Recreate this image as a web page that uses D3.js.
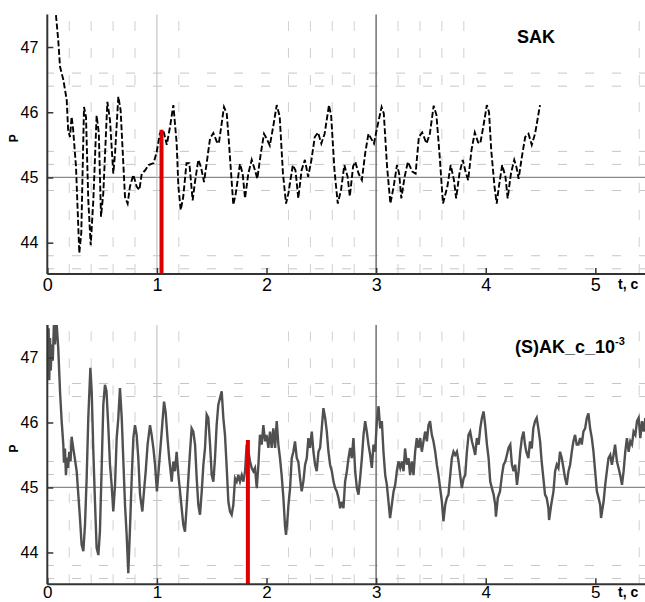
<!DOCTYPE html>
<html><head><meta charset="utf-8">
<script src="https://cdn.jsdelivr.net/npm/d3@7"></script>
<style>body{margin:0;background:#fff}svg{display:block}text{font-family:"Liberation Sans",Arial,sans-serif}</style>
</head><body>
<script>
// ---------- data ----------
const xTicks = [0,1,2,3,4,5];
const yTicks = [44,45,46,47];
const gridY = [43.6,43.8,44.8,45.2,45.4,46.4,46.6];
const gridX = [0.2,0.4,0.6,0.8,1.2,2.2,2.4,2.6,2.8,3.2,3.4,3.6,3.8,5.4];
const panelTitles = ["SAK","(S)AK_c_10"];
const redBarT = [1.042, 1.83];
const redBarP = [45.73, 45.73];

const topT = [0.079,0.1,0.116,0.146,0.177,0.19,0.207,0.222,0.235,0.262,0.292,0.31,0.335,0.353,0.374,0.396,0.42,0.45,0.47,0.49,0.511,0.548,0.572,0.602,0.618,0.648,0.669,0.709,0.733,0.754,0.785,0.815,0.84,0.862,0.893,0.923,0.97,0.998,1.028,1.058,1.09,1.12,1.15,1.18,1.196,1.217,1.24,1.27,1.296,1.326,1.347,1.378,1.402,1.43,1.454,1.485,1.515,1.546,1.565,1.612,1.637,1.66,1.697,1.72,1.758,1.782,1.804,1.834,1.865,1.895,1.916,1.947,1.977,2.0,2.03,2.06,2.093,2.12,2.15,2.178,2.2,2.24,2.264,2.29,2.32,2.35,2.38,2.41,2.44,2.47,2.5,2.53,2.57,2.59,2.62,2.65,2.68,2.71,2.74,2.76,2.79,2.81,2.84,2.87,2.9,2.93,2.98,3.01,3.05,3.07,3.1,3.13,3.16,3.19,3.21,3.23,3.26,3.29,3.33,3.36,3.39,3.42,3.46,3.49,3.525,3.55,3.58,3.61,3.65,3.68,3.71,3.73,3.76,3.79,3.82,3.84,3.87,3.9,3.93,3.95,3.98,4.01,4.03,4.05,4.08,4.1,4.12,4.15,4.18,4.2,4.23,4.26,4.28,4.3,4.33,4.36,4.39,4.42,4.45,4.495];
const topP = [47.49,47.1,46.7,46.5,46.19,45.73,45.62,45.93,45.75,45.16,43.84,44.15,46.08,45.93,44.65,43.96,44.65,45.95,45.68,44.4,44.76,46.16,45.88,45.06,45.37,46.24,46.03,44.7,44.6,44.86,45.04,44.86,44.81,45.06,45.11,45.19,45.22,45.39,45.68,45.73,45.5,45.78,46.11,45.53,44.86,44.5,44.7,45.22,45.22,44.65,44.93,45.27,45.16,44.93,45.22,45.6,45.68,45.55,45.52,46.08,45.98,45.47,44.58,44.76,45.21,45.06,44.68,45.06,45.27,45.11,44.98,45.36,45.67,45.6,45.49,45.77,46.11,45.94,45.06,44.6,44.76,45.19,45.11,44.68,45.11,45.27,45.01,45.27,45.62,45.69,45.52,45.67,46.11,45.94,45.11,44.6,44.81,45.19,45.01,44.71,45.17,45.24,45.06,44.96,45.37,45.67,45.52,45.77,46.08,45.98,45.16,44.6,44.86,45.19,45.06,44.68,45.01,45.24,45.09,45.06,45.62,45.69,45.52,45.67,46.1,45.96,45.32,44.6,44.86,45.19,44.96,44.68,45.06,45.27,45.06,44.96,45.42,45.69,45.54,45.52,45.8,46.11,46.0,45.42,44.86,44.6,44.86,45.19,45.01,44.68,45.06,45.27,45.16,44.98,45.32,45.62,45.67,45.5,45.67,46.11];

const botT = [0.0,0.005,0.012,0.018,0.025,0.032,0.04,0.05,0.06,0.07,0.08,0.086,0.1,0.116,0.131,0.146,0.152,0.161,0.17,0.18,0.19,0.2,0.212,0.222,0.237,0.25,0.268,0.283,0.298,0.313,0.329,0.344,0.359,0.374,0.393,0.405,0.42,0.435,0.45,0.466,0.48,0.496,0.511,0.526,0.54,0.557,0.572,0.587,0.602,0.618,0.633,0.648,0.663,0.679,0.694,0.709,0.724,0.739,0.755,0.77,0.785,0.8,0.815,0.83,0.846,0.867,0.882,0.898,0.915,0.937,0.952,0.968,0.983,1.0,1.02,1.044,1.065,1.08,1.097,1.112,1.135,1.15,1.165,1.18,1.196,1.211,1.226,1.241,1.256,1.272,1.287,1.302,1.317,1.332,1.348,1.363,1.378,1.393,1.409,1.424,1.439,1.454,1.469,1.485,1.5,1.515,1.53,1.545,1.56,1.576,1.591,1.606,1.621,1.637,1.652,1.667,1.682,1.697,1.713,1.728,1.743,1.758,1.774,1.789,1.804,1.819,1.834,1.85,1.865,1.88,1.895,1.911,1.926,1.94,1.956,1.971,1.987,2.0,2.017,2.032,2.047,2.062,2.078,2.093,2.108,2.123,2.138,2.154,2.169,2.178,2.192,2.2,2.215,2.23,2.245,2.26,2.276,2.29,2.306,2.321,2.336,2.352,2.367,2.382,2.397,2.413,2.428,2.443,2.458,2.474,2.489,2.504,2.519,2.535,2.55,2.565,2.58,2.596,2.611,2.626,2.641,2.656,2.672,2.687,2.702,2.717,2.733,2.748,2.763,2.778,2.793,2.809,2.824,2.839,2.854,2.87,2.885,2.9,2.915,2.93,2.946,2.961,2.976,2.991,3.007,3.022,3.037,3.052,3.067,3.083,3.098,3.113,3.127,3.143,3.159,3.174,3.189,3.204,3.22,3.235,3.25,3.264,3.28,3.295,3.31,3.325,3.341,3.356,3.371,3.386,3.402,3.417,3.432,3.447,3.463,3.478,3.492,3.508,3.523,3.539,3.554,3.569,3.584,3.6,3.614,3.63,3.645,3.66,3.676,3.691,3.706,3.721,3.737,3.752,3.767,3.782,3.798,3.813,3.828,3.843,3.858,3.874,3.889,3.904,3.919,3.935,3.95,3.965,3.98,3.995,4.011,4.026,4.041,4.056,4.072,4.087,4.093,4.11,4.13,4.148,4.163,4.178,4.193,4.208,4.224,4.239,4.254,4.269,4.285,4.3,4.315,4.33,4.345,4.358,4.37,4.389,4.404,4.42,4.434,4.45,4.465,4.48,4.496,4.51,4.526,4.541,4.556,4.572,4.578,4.597,4.618,4.633,4.648,4.663,4.678,4.694,4.709,4.724,4.739,4.755,4.77,4.785,4.8,4.815,4.83,4.846,4.861,4.876,4.891,4.907,4.922,4.937,4.952,4.968,4.983,4.998,5.014,5.029,5.044,5.052,5.075,5.09,5.105,5.12,5.136,5.151,5.166,5.18,5.197,5.212,5.227,5.243,5.258,5.273,5.288,5.304,5.319,5.334,5.349,5.365,5.38,5.395,5.41,5.426,5.441,5.456];
const botP = [47.5,46.9,47.45,46.65,47.3,46.8,47.2,46.95,47.5,47.2,47.5,47.5,47.14,46.48,46.02,45.66,45.38,45.6,45.19,45.46,45.3,45.55,45.4,45.78,45.6,45.46,45.25,44.89,44.53,44.12,44.02,44.43,45.14,46.07,46.84,46.48,45.55,44.78,44.07,43.96,44.32,45.3,46.27,46.58,46.48,45.92,45.35,45.04,44.63,45.04,45.76,46.07,46.53,46.07,45.4,44.73,44.27,43.68,44.4,45.14,45.76,45.96,45.81,45.46,44.89,44.63,44.94,45.25,45.66,45.96,45.81,45.6,45.35,44.94,45.35,45.86,46.32,46.15,45.75,45.45,45.09,45.4,45.25,45.55,45.19,44.94,44.68,44.42,44.32,44.73,45.14,45.55,45.91,45.86,45.66,45.14,44.73,44.58,44.94,45.35,45.61,46.12,46.07,45.66,45.19,45.09,45.45,45.96,46.27,46.38,46.48,46.07,45.81,45.3,44.78,44.63,44.58,44.73,45.14,45.09,45.19,45.09,45.19,45.09,45.25,45.66,45.56,45.4,45.3,45.25,45.3,44.99,45.35,45.81,45.66,45.96,45.71,45.81,45.61,45.86,45.61,45.91,45.61,46.02,45.66,45.45,45.19,44.84,44.4,44.27,44.53,44.73,44.99,45.45,45.55,45.71,45.45,45.4,45.14,44.94,45.09,45.35,45.45,45.76,45.61,45.86,45.55,45.35,45.25,45.55,45.61,45.91,46.22,46.07,45.86,45.55,45.35,45.25,45.09,44.99,44.94,44.84,44.68,44.78,44.68,45.09,45.25,45.45,45.61,45.45,45.76,45.25,44.99,44.89,45.14,45.45,45.81,46.02,45.86,45.66,45.5,45.3,45.66,45.55,46.02,46.25,45.91,46.02,45.55,45.19,45.04,44.78,44.53,44.73,44.94,45.04,45.25,45.4,45.3,45.4,45.25,45.6,45.35,45.45,45.19,45.4,45.19,45.55,45.76,45.61,45.76,45.55,45.71,45.86,45.71,45.96,46.02,45.81,45.71,45.55,45.35,45.19,44.99,44.78,44.48,44.73,44.84,44.89,45.19,45.45,45.55,45.5,45.55,45.4,45.19,44.99,45.14,45.19,45.55,45.81,45.86,45.71,45.61,45.5,45.76,45.66,45.91,46.07,46.17,45.96,45.66,45.45,45.09,44.99,44.89,44.73,44.55,44.84,44.94,45.19,45.35,45.4,45.5,45.61,45.66,45.35,45.25,45.35,45.04,45.25,45.55,45.76,45.86,45.66,45.55,45.45,45.71,45.6,45.91,46.02,46.07,45.91,45.71,45.4,45.14,44.89,44.84,44.68,44.5,44.73,44.94,45.25,45.35,45.3,45.55,45.45,45.3,45.14,45.04,45.25,45.35,45.55,45.71,45.81,45.66,45.66,45.76,45.66,45.86,45.91,46.07,46.14,45.91,45.76,45.55,45.25,44.94,44.84,44.73,44.53,44.78,45.04,45.25,45.45,45.5,45.35,45.5,45.66,45.4,45.3,45.19,45.04,45.25,45.55,45.76,45.55,45.71,45.66,45.86,45.81,46.02,46.07,45.76,46.02,45.86,46.07];

// ---------- drawing ----------
const W = 645, H = 602;
const svg = d3.select("body").append("svg").attr("width", W).attr("height", H);

const x = d3.scaleLinear().domain([0, 5.453]).range([47.3, 645]);

const panels = [
  {y0: 274, y1: 14.4, dom:[43.52,47.5], T: topT, P: topP, dashed: true,  title: panelTitles[0], lab: 16.5, fs: 18},
  {y0: 584.3, y1: 325, dom:[43.51,47.5], T: botT, P: botP, dashed: false, title: panelTitles[1], lab: 13.5, fs: 17}
];

panels.forEach((p, i) => {
  const y = d3.scaleLinear().domain(p.dom).range([p.y0, p.y1]);
  const g = svg.append("g");
  const clipId = "clip" + i;
  svg.append("clipPath").attr("id", clipId).append("rect")
    .attr("x", x(0)).attr("y", p.y1).attr("width", W - x(0)).attr("height", p.y0 - p.y1);

  // dashed horizontal grid
  g.selectAll(".hg").data(gridY).join("line")
    .attr("x1", x(0)).attr("x2", W).attr("y1", d => y(d)).attr("y2", d => y(d))
    .attr("stroke", "#c6c6c6").attr("stroke-width", 1)
    .attr("stroke-dasharray", "9 18").attr("stroke-dashoffset", 2.3);
  // dashed vertical grid
  g.selectAll(".vg").data(gridX).join("line")
    .attr("x1", d => x(d)).attr("x2", d => x(d)).attr("y1", p.y0).attr("y2", p.y1)
    .attr("stroke", "#d0d0d0").attr("stroke-width", 1)
    .attr("stroke-dasharray", "10 17");
  // solid reference lines
  g.append("line").attr("x1", x(0)).attr("x2", W).attr("y1", y(45)).attr("y2", y(45))
    .attr("stroke", "#8a8a8a").attr("stroke-width", 1.2);
  g.append("line").attr("x1", x(1)).attr("x2", x(1)).attr("y1", p.y0).attr("y2", p.y1)
    .attr("stroke", "#c4c4c4").attr("stroke-width", 1.2);
  g.append("line").attr("x1", x(3)).attr("x2", x(3)).attr("y1", p.y0).attr("y2", p.y1)
    .attr("stroke", "#7a7a7a").attr("stroke-width", 1.6);

  // series
  const pts = p.T.map((t, k) => [t, p.P[k]]);
  const line = d3.line().x(d => x(d[0])).y(d => y(d[1]));
  const path = g.append("path").datum(pts).attr("d", line)
    .attr("clip-path", `url(#${clipId})`).attr("fill", "none");
  if (p.dashed) {
    path.attr("stroke", "#000").attr("stroke-width", 1.9).attr("stroke-dasharray", "6 2.5");
  } else {
    path.attr("stroke", "#505050").attr("stroke-width", 2.4);
  }

  // red bar
  g.append("line").attr("x1", x(redBarT[i])).attr("x2", x(redBarT[i]))
    .attr("y1", p.y0).attr("y2", y(redBarP[i]))
    .attr("stroke", "#dd0000").attr("stroke-width", 4);

  // axes
  const ax = g.append("g").attr("transform", `translate(0,${p.y0})`)
    .call(d3.axisBottom(x).tickValues(xTicks).tickSize(-6).tickPadding(4).tickFormat(d3.format("d")));
  ax.select(".domain").attr("stroke", "#333").attr("stroke-width", 2).attr("d", `M${x(0)},0H${W}`);
  ax.selectAll(".tick line").attr("stroke", "#333").attr("stroke-width", 1.5);
  ax.selectAll(".tick text").attr("font-size", p.fs).attr("fill", "#000")
    .attr("font-family", '"Liberation Sans",Arial,sans-serif').attr("dy", null).attr("y", p.lab);

  const ay = g.append("g").attr("transform", `translate(${x(0)},0)`)
    .call(d3.axisLeft(y).tickValues(yTicks).tickSize(-6).tickPadding(9).tickFormat(d3.format("d")));
  ay.select(".domain").attr("stroke", "#333").attr("stroke-width", 2).attr("d", `M0,${p.y1}V${p.y0}`);
  ay.selectAll(".tick line").attr("stroke", "#333").attr("stroke-width", 1.5);
  ay.selectAll(".tick text").attr("font-size", 16).attr("fill", "#000")
    .attr("font-family", '"Liberation Sans",Arial,sans-serif');

  // axis labels
  g.append("text").attr("transform", `translate(18,${y(45.6)}) rotate(-90)`)
    .attr("text-anchor", "middle").attr("font-size", 12).attr("font-weight", "bold").text("P");
  g.append("text").attr("x", 618).attr("y", p.y0 + (i === 0 ? 15 : 13)).attr("font-size", 14)
    .attr("font-weight", "bold").text("t, c");

  // title
  if (i === 0) {
    g.append("text").attr("x", 536).attr("y", 43).attr("text-anchor", "middle")
      .attr("font-size", 18).attr("font-weight", "bold").text(p.title);
  } else {
    const t = g.append("text").attr("x", 515).attr("y", 353)
      .attr("font-size", 18).attr("font-weight", "bold");
    t.append("tspan").text(p.title);
    t.append("tspan").attr("font-size", 11).attr("dy", -8).text("-3");
  }
});
</script>
</body></html>
